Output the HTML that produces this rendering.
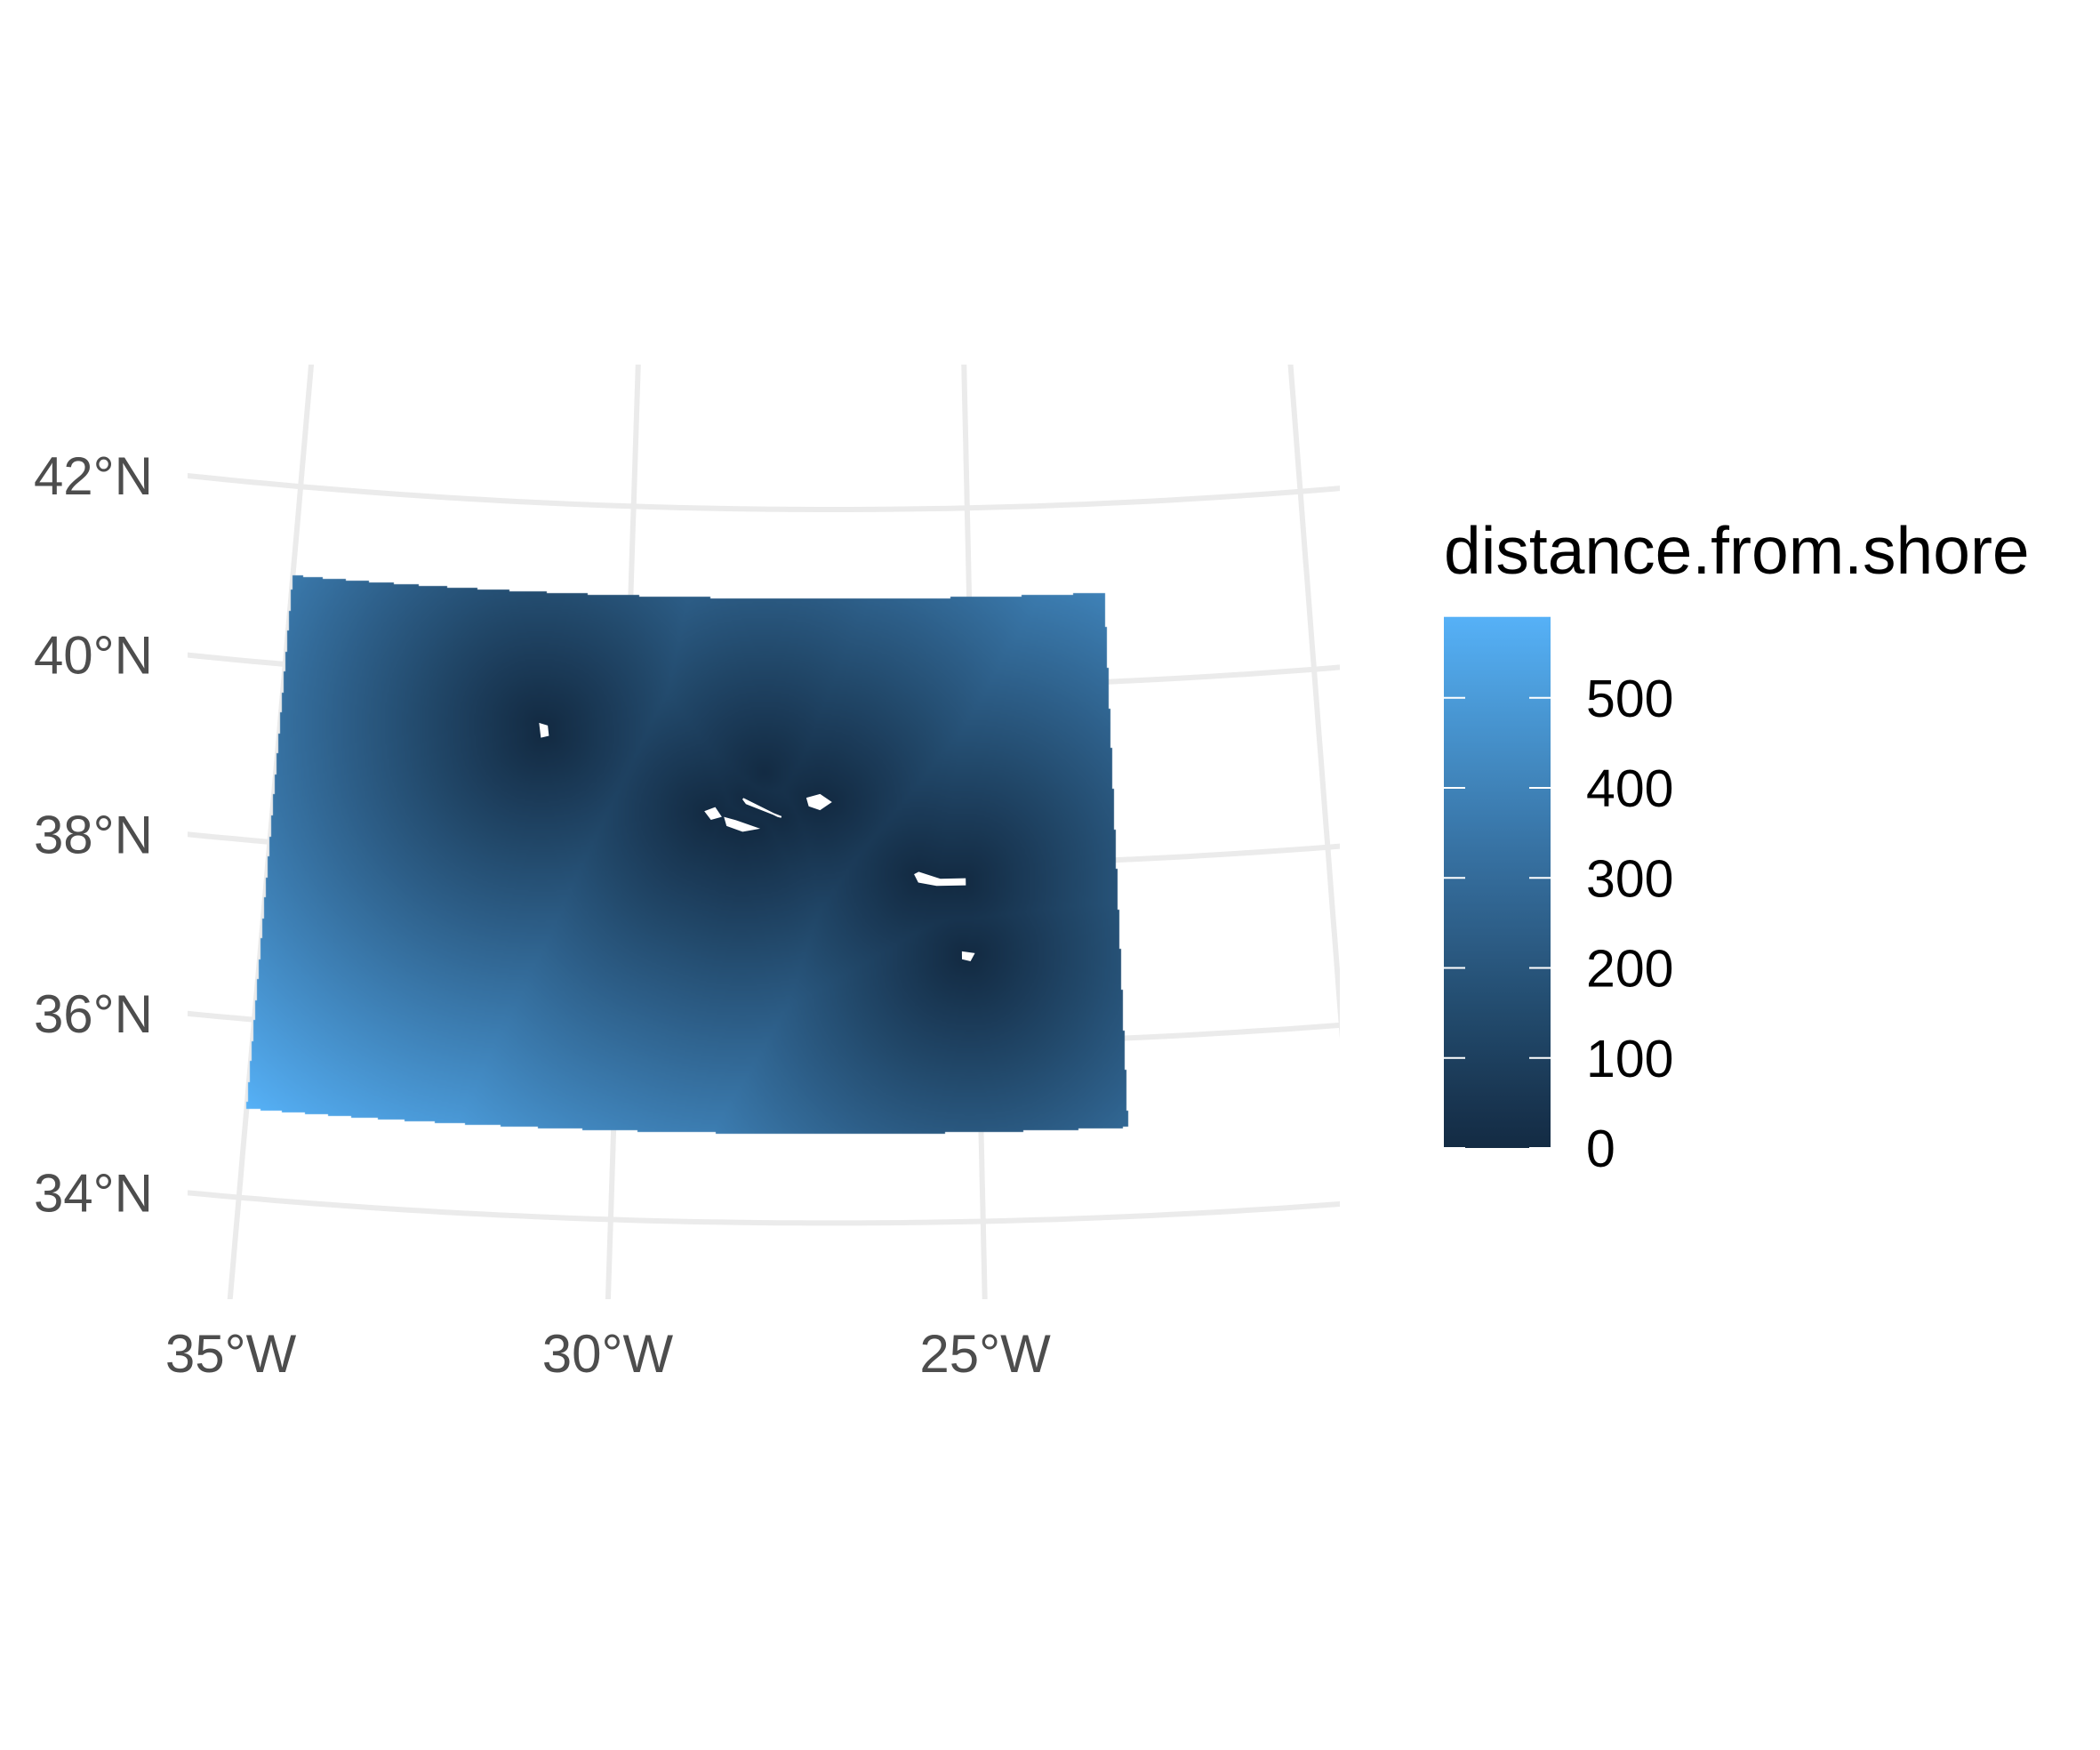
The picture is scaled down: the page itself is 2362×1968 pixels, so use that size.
<!DOCTYPE html>
<html><head><meta charset="utf-8">
<style>
html,body{margin:0;padding:0;background:#fff;}
#wrap{position:relative;width:2362px;height:1968px;overflow:hidden;font-family:"Liberation Sans",sans-serif;}
svg,canvas{position:absolute;left:0;top:0;}
</style></head>
<body>
<div id="wrap">
<svg id="grid" width="2362" height="1968"></svg>
<canvas id="ras" width="2362" height="1968"></canvas>
<svg id="over" width="2362" height="1968"></svg>
</div>
<script>
// ---- data ----
const latBreaks = [34, 36, 38, 40, 42];
const lonBreaks = [-35, -30, -25, -20];
const latLabels = ["34°N","36°N","38°N","40°N","42°N"];
const lonLabels = ["35°W","30°W","25°W",""];
const rasterLon = [-35, -23];
const rasterLat = [35, 41];
const legendTicks = [0, 100, 200, 300, 400, 500];
const islandNames = ["flores","faial","pico","sao-jorge","terceira","sao-miguel","santa-maria"];
const islands = [
 [[-31.25,39.52],[-31.15,39.5],[-31.13,39.4],[-31.22,39.38]],
 [[-28.83,38.6],[-28.7,38.64],[-28.62,38.55],[-28.75,38.52]],
 [[-28.55,38.53],[-28.4,38.5],[-28.1,38.42],[-28.3,38.39],[-28.52,38.45]],
 [[-28.3,38.75],[-27.8,38.56],[-27.75,38.55],[-28.25,38.7]],
 [[-27.38,38.76],[-27.2,38.8],[-27.05,38.72],[-27.2,38.64],[-27.35,38.68]],
 [[-25.85,37.9],[-25.8,37.82],[-25.55,37.78],[-25.15,37.78],[-25.15,37.84],[-25.5,37.84],[-25.8,37.92]],
 [[-25.2,37.02],[-25.05,37.0],[-25.1,36.93],[-25.2,36.95]]
];
const extraShorePoints = [[-28.0,39.05]];

// ---- projection (conic) ----
const CX=934, CY=-6312, R42=6885, K=100.3, N=0.0109, LON0=-27.05;
function proj(lon,lat){const r=R42+(42-lat)*K, th=N*(lon-LON0);return [CX+r*Math.sin(th), CY+r*Math.cos(th)];}
function inv(x,y){const dx=x-CX, dy=y-CY, r=Math.hypot(dx,dy);return [LON0+Math.atan2(dx,dy)/N, 42-(r-R42)/K];}
const NS="http://www.w3.org/2000/svg";
function el(tag,attrs,parent){const e=document.createElementNS(NS,tag);for(const k in attrs)e.setAttribute(k,attrs[k]);parent.appendChild(e);return e;}

// ---- gridlines ----
const grid=document.getElementById('grid');
const defs=el('defs',{},grid);
const cp=el('clipPath',{id:'panel'},defs);
el('rect',{x:211,y:410,width:1296,height:1051},cp);
const gg=el('g',{'clip-path':'url(#panel)'},grid);
latBreaks.forEach((lat,i)=>{
  let d='';for(let lon=-42;lon<=-12;lon+=0.25){const p=proj(lon,lat);d+=(d?'L':'M')+p[0].toFixed(1)+','+p[1].toFixed(1);}
  const p=el('path',{d:d,fill:'none',stroke:'#EBEBEB','stroke-width':6},gg);
  
  
});
lonBreaks.forEach((lon,i)=>{
  let d='';for(let lat=28;lat<=48;lat+=0.25){const p=proj(lon,lat);d+=(d?'L':'M')+p[0].toFixed(1)+','+p[1].toFixed(1);}
  const p=el('path',{d:d,fill:'none',stroke:'#EBEBEB','stroke-width':6},gg);
  
  
});

// ---- colour scale (Lab interpolation) ----
function srgb2lin(c){c/=255;return c<=0.04045?c/12.92:Math.pow((c+0.055)/1.055,2.4);}
function lin2srgb(c){c=c<=0.0031308?12.92*c:1.055*Math.pow(c,1/2.4)-0.055;return Math.max(0,Math.min(255,Math.round(c*255)));}
function toLab(r,g,b){r=srgb2lin(r);g=srgb2lin(g);b=srgb2lin(b);
 let x=(0.4124*r+0.3576*g+0.1805*b)/0.95047,y=0.2126*r+0.7152*g+0.0722*b,z=(0.0193*r+0.1192*g+0.9505*b)/1.08883;
 const f=t=>t>0.008856?Math.cbrt(t):7.787*t+16/116;x=f(x);y=f(y);z=f(z);return [116*y-16,500*(x-y),200*(y-z)];}
function fromLab(L,a,b){let y=(L+16)/116,x=a/500+y,z=y-b/200;const f=t=>t*t*t>0.008856?t*t*t:(t-16/116)/7.787;
 x=f(x)*0.95047;y=f(y);z=f(z)*1.08883;
 return [lin2srgb(3.2406*x-1.5372*y-0.4986*z),lin2srgb(-0.9689*x+1.8758*y+0.0415*z),lin2srgb(0.0557*x-0.2040*y+1.0570*z)];}
const LOW=toLab(0x13,0x2B,0x43), HIGH=toLab(0x56,0xB1,0xF7);
const LUT=[];for(let i=0;i<=255;i++){const t=i/255;LUT.push(fromLab(LOW[0]+(HIGH[0]-LOW[0])*t,LOW[1]+(HIGH[1]-LOW[1])*t,LOW[2]+(HIGH[2]-LOW[2])*t));}

// ---- distance field ----
const shore=[];islands.forEach(poly=>{for(let i=0;i<poly.length;i++){const a=poly[i],b=poly[(i+1)%poly.length];for(let s=0;s<4;s++){const t=s/4;shore.push([a[0]+(b[0]-a[0])*t,a[1]+(b[1]-a[1])*t]);}}});
extraShorePoints.forEach(p=>shore.push(p));
const RAD=Math.PI/180;
function distKm(lon,lat){let best=1e9;const c1=Math.cos(lat*RAD);
 for(const p of shore){const dl=(p[1]-lat)*RAD,dn=(p[0]-lon)*RAD;
  const h=Math.sin(dl/2)**2+c1*Math.cos(p[1]*RAD)*Math.sin(dn/2)**2;const d=2*6371*Math.asin(Math.sqrt(h));if(d<best)best=d;}
 return best;}
const corners=[proj(rasterLon[0],rasterLat[0]),proj(rasterLon[0],rasterLat[1]),proj(rasterLon[1],rasterLat[0]),proj(rasterLon[1],rasterLat[1])];
const x0=Math.floor(Math.min(...corners.map(c=>c[0])))-2,x1=Math.ceil(Math.max(...corners.map(c=>c[0])))+2;
const y0=Math.floor(Math.min(...corners.map(c=>c[1])))-2,y1=Math.ceil(Math.max(...corners.map(c=>c[1])))+12;
const W=x1-x0,H=y1-y0;const vals=new Float32Array(W*H).fill(-1);let vmax=0;
const STEP=2;
for(let y=0;y<H;y+=STEP)for(let x=0;x<W;x+=STEP){const ll=inv(x0+x+STEP/2,y0+y+STEP/2);
 if(ll[0]<rasterLon[0]||ll[0]>rasterLon[1]||ll[1]<rasterLat[0]||ll[1]>rasterLat[1])continue;
 const d=distKm(ll[0],ll[1]);if(d>vmax)vmax=d;
 for(let yy=y;yy<Math.min(H,y+STEP);yy++)for(let xx=x;xx<Math.min(W,x+STEP);xx++)vals[yy*W+xx]=d;}
const ctx=document.getElementById('ras').getContext('2d');
const img=ctx.createImageData(W,H);
for(let i=0;i<W*H;i++){const v=vals[i];if(v<0)continue;const c=LUT[Math.round(Math.min(1,v/vmax)*255)];
 img.data[i*4]=c[0];img.data[i*4+1]=c[1];img.data[i*4+2]=c[2];img.data[i*4+3]=255;}
ctx.putImageData(img,x0,y0);

// ---- overlay: islands, labels, legend ----
const over=document.getElementById('over');
const odefs=el('defs',{},over);
islands.forEach((poly,i)=>{
  const pts=poly.map(p=>proj(p[0],p[1]).map(v=>v.toFixed(1)).join(',')).join(' ');
  const pg=el('polygon',{points:pts,fill:'#fff',stroke:'#fff','stroke-width':2},over);
  
  
});
latBreaks.forEach((lat,i)=>{
  const p=proj(-35.6,lat);
  const lon=inv(211,p[1])[0];const yy=proj(lon,lat)[1];
  const t=el('text',{x:172,y:yy+21,'text-anchor':'end','font-size':60,fill:'#4D4D4D','font-family':'Liberation Sans, sans-serif'},over);
  t.textContent=latLabels[i];
  
  
});
lonBreaks.forEach((lon,i)=>{
  if(!lonLabels[i])return;
  const p=proj(lon,32.95);
  const t=el('text',{x:p[0],y:1543,'text-anchor':'middle','font-size':60,fill:'#4D4D4D','font-family':'Liberation Sans, sans-serif'},over);
  t.textContent=lonLabels[i];
  
  
});
// legend
const LX=1624,LW=120,L0=1291,PPU=1.0125;
const lt=el('text',{x:LX,y:645,'font-size':75,fill:'#000','font-family':'Liberation Sans, sans-serif'},over);
lt.textContent='distance.from.shore';


const lg=el('linearGradient',{id:'lgrad',x1:0,y1:1,x2:0,y2:0},odefs);
const legBottom=L0, legTop=L0-vmax*PPU;
for(let i=0;i<=16;i++){const c=LUT[Math.round(i/16*255)];el('stop',{offset:i/16,'stop-color':'rgb('+c.join(',')+')'},lg);}
const bar=el('rect',{x:LX,y:legTop,width:LW,height:legBottom-legTop,fill:'url(#lgrad)'},over);


legendTicks.forEach(v=>{
  const y=L0-v*PPU;
  const a=el('line',{x1:LX,x2:LX+24,y1:y,y2:y,stroke:'#fff','stroke-width':2},over);
  
  
  const b=el('line',{x1:LX+LW-24,x2:LX+LW,y1:y,y2:y,stroke:'#fff','stroke-width':2},over);
  
  
  const t=el('text',{x:1784,y:y+21,'font-size':59,fill:'#000','font-family':'Liberation Sans, sans-serif'},over);
  t.textContent=String(v);
  
  
});
</script>
</body></html>
